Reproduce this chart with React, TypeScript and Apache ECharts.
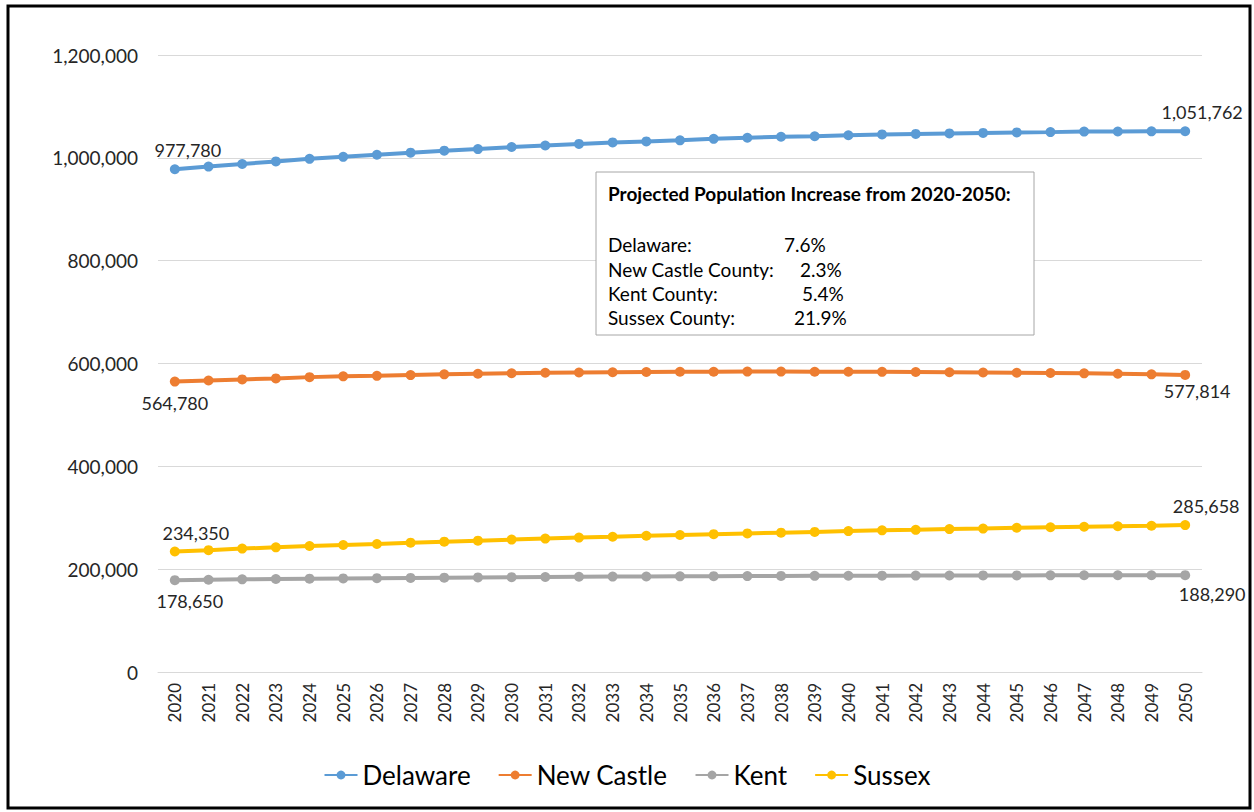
import React, { useEffect, useRef } from "react";
import * as echarts from "echarts";

const years = [
  "2020", "2021", "2022", "2023", "2024", "2025", "2026", "2027", "2028", "2029", "2030",
  "2031", "2032", "2033", "2034", "2035", "2036", "2037", "2038", "2039", "2040",
  "2041", "2042", "2043", "2044", "2045", "2046", "2047", "2048", "2049", "2050",
];

const delaware = [
  977780, 983000, 988000, 993000, 998000, 1002000, 1006000, 1010000, 1014000, 1017000, 1021000,
  1024000, 1027000, 1030000, 1032000, 1034000, 1037000, 1039000, 1041000, 1042000, 1044000,
  1045500, 1046500, 1047500, 1048500, 1049500, 1050000, 1051000, 1051200, 1051500, 1051762,
];

const newCastle = [
  564780, 567000, 569000, 571000, 573500, 575000, 576000, 577500, 579000, 580000, 581000,
  582000, 582500, 583000, 583500, 584000, 584000, 584200, 584200, 584000, 584000,
  583800, 583500, 583000, 582500, 582000, 581500, 580800, 580000, 579000, 577814,
];

const kent = [
  178650, 179500, 180200, 180900, 181500, 182000, 182500, 183000, 183500, 184000, 184400,
  184800, 185200, 185500, 185800, 186100, 186400, 186600, 186800, 187000, 187200,
  187400, 187500, 187700, 187800, 187900, 188000, 188100, 188200, 188250, 188290,
];

const sussex = [
  234350, 237000, 240000, 242500, 245000, 247000, 249000, 251500, 253500, 255500, 257500,
  259500, 261500, 263000, 265000, 266500, 268000, 269500, 271000, 272500, 274000,
  275500, 276500, 278000, 279000, 280500, 281500, 282500, 283500, 284500, 285658,
];

const seriesNames = ["Delaware", "New Castle", "Kent", "Sussex"];
const seriesColors = ["#5B9BD5", "#ED7D31", "#A5A5A5", "#FFC000"];

const boxTitle = "Projected Population Increase from 2020-2050:";
const boxLabels = ["Delaware:", "New Castle County:", "Kent County:", "Sussex County:"];
const boxValues = ["7.6%", "2.3%", "5.4%", "21.9%"];

const FONT = "Lato, 'Noto Sans', sans-serif";
const fmt = (v: number) => v.toLocaleString("en-US");

type LabelCfg = { position: string; offset: number[] };

function buildData(values: number[], first: LabelCfg, last: LabelCfg) {
  return values.map((v, i) => {
    if (i === 0 || i === values.length - 1) {
      const cfg = i === 0 ? first : last;
      return {
        value: v,
        label: {
          show: true,
          position: cfg.position,
          offset: cfg.offset,
          formatter: () => fmt(v),
          fontSize: 18,
          fontFamily: FONT,
          color: "#262626",
        },
      };
    }
    return v;
  });
}

export default function App() {
  const ref = useRef<HTMLDivElement>(null);

  useEffect(() => {
    if (!ref.current) return;
    const chart = echarts.init(ref.current, null, { renderer: "svg" });

    const allData = [
      buildData(delaware, { position: "top", offset: [13, 0] }, { position: "top", offset: [17, 0] }),
      buildData(newCastle, { position: "bottom", offset: [0, 2] }, { position: "bottom", offset: [12, -3] }),
      buildData(kent, { position: "bottom", offset: [15, 2] }, { position: "bottom", offset: [27, 0] }),
      buildData(sussex, { position: "top", offset: [21, 0] }, { position: "top", offset: [21, 0] }),
    ];

    const boxX = 596;
    const boxY = 172;
    const rowYs = [244, 269, 293, 317];
    const valueXs = [784, 800, 802, 794];

    const graphics: any[] = [
      {
        type: "rect",
        shape: { x: 8, y: 6, width: 1242, height: 802 },
        style: { fill: "none", stroke: "#000", lineWidth: 3 },
        z: 100,
      },
      {
        type: "rect",
        shape: { x: boxX, y: boxY, width: 438, height: 163 },
        style: { fill: "#fff", stroke: "#A6A6A6", lineWidth: 1 },
        z: 100,
      },
      {
        type: "text",
        x: 608,
        y: 193,
        style: {
          text: boxTitle,
          fontSize: 19,
          fontWeight: "bold",
          fontFamily: FONT,
          fill: "#000",
          verticalAlign: "middle",
        },
        z: 101,
      },
    ];
    boxLabels.forEach((t, i) => {
      graphics.push({
        type: "text",
        x: 608,
        y: rowYs[i],
        style: { text: t, fontSize: 19, fontFamily: FONT, fill: "#000", verticalAlign: "middle" },
        z: 101,
      });
      graphics.push({
        type: "text",
        x: valueXs[i],
        y: rowYs[i],
        style: { text: boxValues[i], fontSize: 19, fontFamily: FONT, fill: "#000", verticalAlign: "middle" },
        z: 101,
      });
    });

    chart.setOption({
      animation: false,
      backgroundColor: "#fff",
      textStyle: { fontFamily: FONT },
      grid: { left: 158, right: 52, top: 55, bottom: 140, containLabel: false },
      legend: {
        data: seriesNames,
        bottom: 19,
        left: "center",
        itemWidth: 33,
        itemHeight: 11,
        itemGap: 27,
        textStyle: { fontSize: 26, fontFamily: FONT, color: "#000" },
      },
      xAxis: {
        type: "category",
        data: years,
        boundaryGap: true,
        axisLine: { lineStyle: { color: "#D9D9D9", width: 1 } },
        axisTick: { show: false },
        axisLabel: { rotate: 90, fontSize: 17, fontFamily: FONT, color: "#262626", margin: 11 },
      },
      yAxis: {
        type: "value",
        min: 0,
        max: 1200000,
        interval: 200000,
        axisLine: { show: false },
        axisTick: { show: false },
        splitLine: { lineStyle: { color: "#D9D9D9", width: 1 } },
        axisLabel: {
          fontSize: 19,
          fontFamily: FONT,
          color: "#262626",
          margin: 20,
          formatter: (v: number) => fmt(v),
        },
      },
      series: seriesNames.map((name, i) => ({
        name,
        type: "line",
        data: allData[i],
        symbol: "circle",
        symbolSize: 10,
        lineStyle: { width: 4, color: seriesColors[i] },
        itemStyle: { color: seriesColors[i] },
        emphasis: { disabled: true },
      })),
      graphic: graphics,
    });

    return () => chart.dispose();
  }, []);

  return (
    <div
      ref={ref}
      style={{ position: "fixed", left: 0, top: 0, width: 1254, height: 812, background: "#fff" }}
    />
  );
}
